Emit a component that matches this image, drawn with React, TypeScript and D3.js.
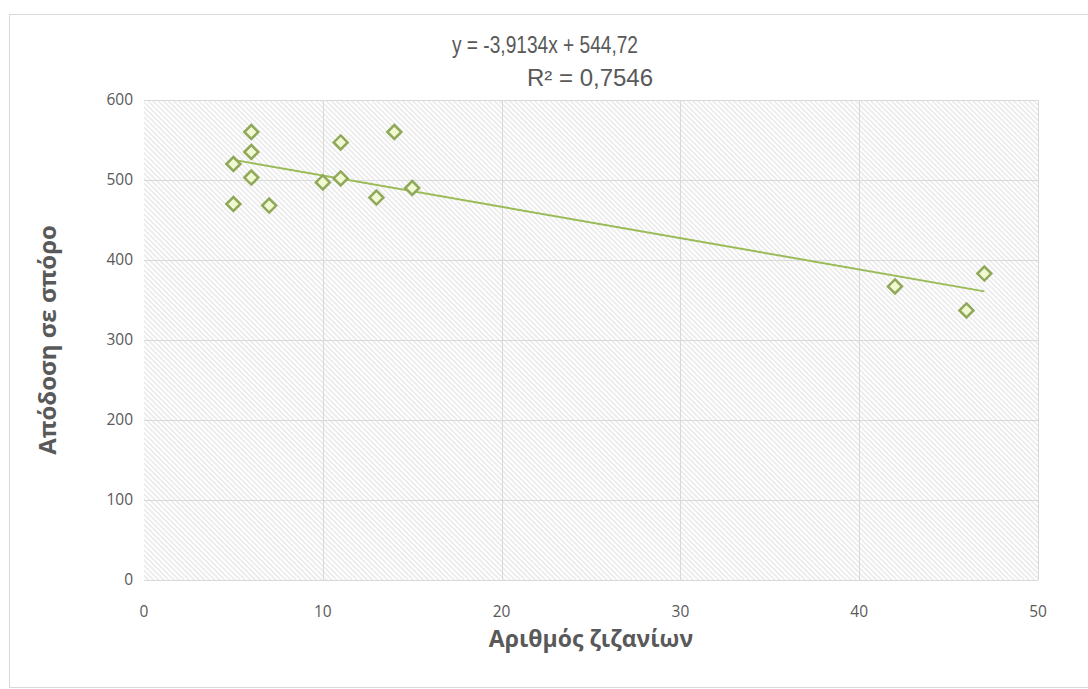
import React from "react";
import * as d3 from "d3";

const WIDTH = 1088;
const HEIGHT = 689;

// weeds count vs seed yield
const weeds = [6, 6, 5, 6, 5, 7, 11, 14, 10, 11, 13, 15, 42, 47, 46];
const yields = [560, 535, 520, 503, 470, 468, 547, 560, 497, 502, 478, 490, 367, 383, 337];

const slope = -3.9134;
const intercept = 544.72;
const equationLines = ["y = -3,9134x + 544,72", "R² = 0,7546"];

const xTicks = [0, 10, 20, 30, 40, 50];
const yTicks = [0, 100, 200, 300, 400, 500, 600];

const xTitle = "Αριθμός ζιζανίων";
const yTitle = "Απόδοση σε σπόρο";

const margin = { top: 100, right: 50, bottom: 109, left: 144 };

const GRID = "#d9d9d9";
const TEXT = "#595959";
const GREEN = "#9bbb59";

// placement of the two equation lines (Excel label is a bit ragged)
const eqPos = [
  { cx: 545, y: 53, len: 186 },
  { cx: 590, y: 86, len: 126 },
];

function App() {
  const x = d3
    .scaleLinear()
    .domain([0, 50])
    .range([margin.left, WIDTH - margin.right]);
  const y = d3
    .scaleLinear()
    .domain([0, 600])
    .range([HEIGHT - margin.bottom, margin.top]);

  const points = weeds.map((w, i) => ({ x: w, y: yields[i] }));
  const xExtent = d3.extent(weeds) as [number, number];
  const trend = d3
    .line<number>()
    .x((d) => x(d))
    .y((d) => y(intercept + slope * d))(xExtent);

  const diamond = d3.symbol().type(d3.symbolDiamond2).size(125)();

  return (
    <svg
      width={WIDTH}
      height={HEIGHT}
      style={{ position: "absolute", left: 0, top: 0, background: "#fff" }}
      fontFamily="'Open Sans', sans-serif"
    >
      <defs>
        <pattern
          id="hatch"
          patternUnits="userSpaceOnUse"
          width={3.6}
          height={3.6}
          patternTransform="rotate(-45)"
        >
          <rect width={3.6} height={3.6} fill="#fff" />
          <line x1={0.9} y1={0} x2={0.9} y2={3.6} stroke="#e0e0e0" strokeWidth={1.1} />
        </pattern>
      </defs>

      <rect x={9.5} y={14.5} width={WIDTH} height={673} fill="#fff" stroke={GRID} />

      <rect
        x={x(0)}
        y={y(600)}
        width={x(50) - x(0)}
        height={y(0) - y(600)}
        fill="url(#hatch)"
      />

      {yTicks.map((t) => (
        <line
          key={`gy${t}`}
          x1={x(0)}
          x2={x(50)}
          y1={Math.round(y(t)) + 0.5}
          y2={Math.round(y(t)) + 0.5}
          stroke={GRID}
        />
      ))}
      {xTicks.slice(1).map((t) => (
        <line
          key={`gx${t}`}
          x1={Math.round(x(t)) + 0.5}
          x2={Math.round(x(t)) + 0.5}
          y1={y(600)}
          y2={y(0)}
          stroke={GRID}
        />
      ))}

      {yTicks.map((t) => (
        <text
          key={`ty${t}`}
          x={x(0) - 11}
          y={y(t)}
          dy="0.35em"
          textAnchor="end"
          fontSize={15.5}
          fill={TEXT}
        >
          {t}
        </text>
      ))}
      {xTicks.map((t) => (
        <text
          key={`tx${t}`}
          x={x(t)}
          y={y(0) + 37}
          textAnchor="middle"
          fontSize={15.5}
          fill={TEXT}
        >
          {t}
        </text>
      ))}

      <path d={trend ?? ""} fill="none" stroke={GREEN} strokeWidth={2} />

      {points.map((p, i) => (
        <path
          key={i}
          d={diamond ?? ""}
          transform={`translate(${x(p.x)},${y(p.y)})`}
          fill="#f1f9d2"
          stroke="#90a85a"
          strokeWidth={2.5}
        />
      ))}

      {equationLines.map((l, i) => (
        <text
          key={l}
          x={eqPos[i].cx}
          y={eqPos[i].y}
          textAnchor="middle"
          fontSize={23}
          textLength={eqPos[i].len}
          lengthAdjust="spacingAndGlyphs"
          fontFamily="'Liberation Sans', sans-serif"
          fill={TEXT}
        >
          {l}
        </text>
      ))}

      <text
        x={(x(0) + x(50)) / 2}
        y={647}
        textAnchor="middle"
        fontSize={23}
        fontWeight={700}
        fill={TEXT}
      >
        {xTitle}
      </text>
      <text
        transform={`translate(56,${(y(0) + y(600)) / 2}) rotate(-90)`}
        textAnchor="middle"
        fontSize={24}
        fontWeight={700}
        fill={TEXT}
      >
        {yTitle}
      </text>
    </svg>
  );
}

export default App;
